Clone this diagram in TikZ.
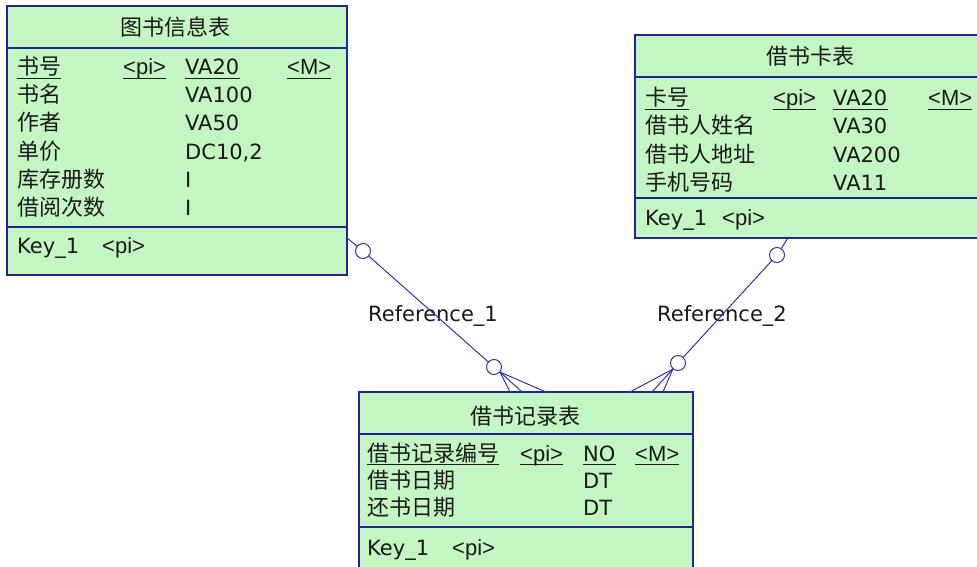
\documentclass[tikz,border=0pt]{standalone}
\usepackage{fontspec}
\setmainfont{DejaVu Sans}
\newfontfamily\cjk{Noto Sans CJK SC}
\newfontfamily\tagf{Liberation Sans}
\definecolor{fillg}{RGB}{196,246,196}
\definecolor{bord}{RGB}{36,36,150}
\definecolor{relc}{RGB}{50,50,175}
\definecolor{ink}{RGB}{25,25,25}
\begin{document}
\begin{tikzpicture}[x=1pt,y=-1pt,
  tbl/.style={draw=bord, fill=fillg, line width=1.5pt, rectangle, inner sep=0pt, outer sep=0pt, anchor=north west},
  sepl/.style={draw=bord, line width=1.5pt},
  zh/.style={anchor=base west, inner sep=0pt, text=ink, font=\fontsize{22}{24}\cjk},
  zt/.style={anchor=base, inner sep=0pt, text=ink, font=\fontsize{22}{24}\cjk},
  la/.style={anchor=base west, inner sep=0pt, text=ink, font=\fontsize{21}{24}\selectfont},
  tg/.style={anchor=base west, inner sep=0pt, text=ink, font=\fontsize{22}{24}\tagf},
  ul/.style={draw=ink, line width=1pt},
  ring/.style={circle, draw=relc, fill=white, line width=1pt, inner sep=0pt, minimum size=15pt},
  rel/.style={draw=relc, line width=1pt}
]
\useasboundingbox (0,0) rectangle (977,567);
\fill[white] (0,0) rectangle (977,567);
\clip (0,0) rectangle (977,567);

% ---------- Table 1 ----------
\node[tbl, minimum width=340pt, minimum height=269pt] (b1) at (7,6) {};
\draw[sepl] (7,48) -- (347,48);
\draw[sepl] (7,227) -- (347,227);
\node[zt] (t1) at (175,36) {图书信息表};
\node[zh] (a11) at (17,75) {书号};
\node[tg] (a12) at (123,75) {<pi>};
\node[la] (a13) at (185,75) {VA20};
\node[tg] (a14) at (287,75) {<M>};
\foreach \n in {a11,a12,a13,a14}
  \draw[ul] ([yshift=-3.5pt]\n.base west) -- ([yshift=-3.5pt]\n.base east);
\node[zh] (a21) at (17,103) {书名};
\node[la] (a23) at (185,103) {VA100};
\node[zh] (a31) at (17,131) {作者};
\node[la] (a33) at (185,131) {VA50};
\node[zh] (a41) at (17,159) {单价};
\node[la] (a43) at (185,159) {DC10,2};
\node[zh] (a51) at (17,187) {库存册数};
\node[la] (a53) at (185,187) {I};
\node[zh] (a61) at (17,215) {借阅次数};
\node[la] (a63) at (185,215) {I};
\node[la] (k1a) at (17,253) {Key\_1};
\node[tg] (k1b) at (102,253) {<pi>};

% ---------- Table 2 ----------
\node[tbl, minimum width=350pt, minimum height=203pt] (b2) at (635,35) {};
\draw[sepl] (635,77) -- (985,77);
\draw[sepl] (635,198) -- (985,198);
\node[zt] (t2) at (810,65) {借书卡表};
\node[zh] (c11) at (645,106) {卡号};
\node[tg] (c12) at (773,106) {<pi>};
\node[la] (c13) at (833,106) {VA20};
\node[tg] (c14) at (928,106) {<M>};
\foreach \n in {c11,c12,c13,c14}
  \draw[ul] ([yshift=-3.5pt]\n.base west) -- ([yshift=-3.5pt]\n.base east);
\node[zh] (c21) at (645,134) {借书人姓名};
\node[la] (c23) at (833,134) {VA30};
\node[zh] (c31) at (645,162) {借书人地址};
\node[la] (c33) at (833,162) {VA200};
\node[zh] (c41) at (645,190) {手机号码};
\node[la] (c43) at (833,190) {VA11};
\node[la] (k2a) at (645,225) {Key\_1};
\node[tg] (k2b) at (722,225) {<pi>};

% ---------- Table 3 ----------
\node[tbl, minimum width=334pt, minimum height=200pt] (b3) at (359,392) {};
\draw[sepl] (359,434) -- (693,434);
\draw[sepl] (359,527) -- (693,527);
\node[zt] (t3) at (525,424) {借书记录表};
\node[zh] (d11) at (367,461) {借书记录编号};
\node[tg] (d12) at (520,461) {<pi>};
\node[la] (d13) at (583,461) {NO};
\node[tg] (d14) at (635,461) {<M>};
\foreach \n in {d11,d12,d13,d14}
  \draw[ul] ([yshift=-3.5pt]\n.base west) -- ([yshift=-3.5pt]\n.base east);
\node[zh] (d21) at (367,488) {借书日期};
\node[la] (d23) at (583,488) {DT};
\node[zh] (d31) at (367,515) {还书日期};
\node[la] (d33) at (583,515) {DT};
\node[la] (k3a) at (367,555) {Key\_1};
\node[tg] (k3b) at (452,555) {<pi>};

% ---------- Reference_1 ----------
\node[la, anchor=west] (lab1) at (368,316) {Reference\_1};
\coordinate (r1s) at (347,238);
\node[ring] (o1) at (363,251) {};
\node[ring] (o2) at (494,367) {};
\draw[rel] (r1s) -- (o1);
\draw[rel] (o1) -- (o2);
\coordinate (f1a) at (510,392);
\coordinate (f1b) at (522,392);
\coordinate (f1c) at (546,392);
\draw[rel] (o2.-40) -- (f1a);
\draw[rel] (o2.-40) -- (f1b);
\draw[rel] (o2.-40) -- (f1c);

% ---------- Reference_2 ----------
\node[la, anchor=west] (lab2) at (657,316) {Reference\_2};
\coordinate (r2s) at (788,238);
\node[ring] (o3) at (777,255) {};
\node[ring] (o4) at (678,363) {};
\draw[rel] (r2s) -- (o3);
\draw[rel] (o3) -- (o4);
\coordinate (f2a) at (630,392);
\coordinate (f2b) at (652,392);
\coordinate (f2c) at (663,392);
\draw[rel] (o4.-130) -- (f2a);
\draw[rel] (o4.-130) -- (f2b);
\draw[rel] (o4.-130) -- (f2c);
\end{tikzpicture}
\end{document}
